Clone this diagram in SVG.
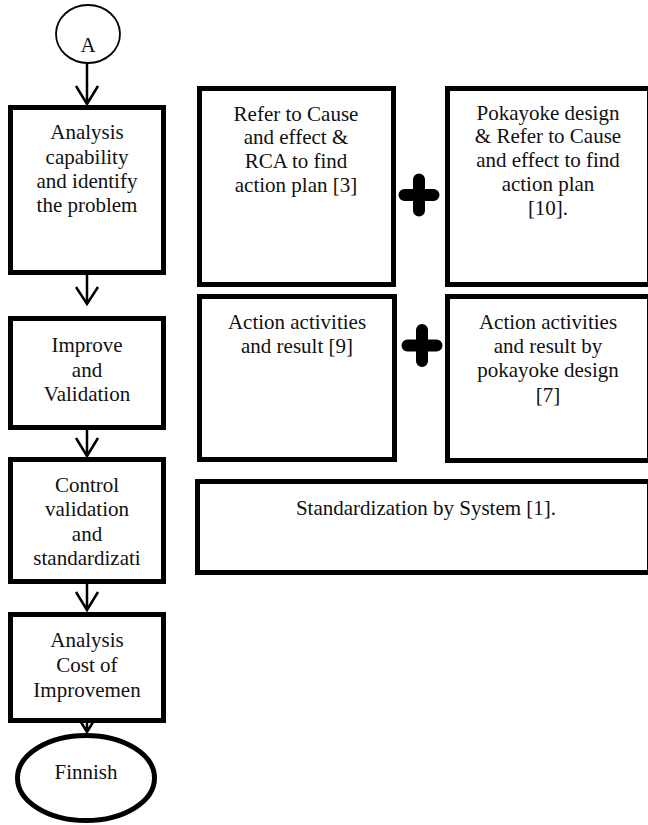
<svg xmlns="http://www.w3.org/2000/svg" width="648" height="825" viewBox="0 0 648 825">
<style>
.box{fill:#fff;stroke:#000;stroke-width:5}
text{font-family:'Liberation Serif',serif;font-size:21px;fill:#111;text-anchor:middle}
.ln{fill:none;stroke:#000;stroke-width:2.5}
.plus{fill:none;stroke:#000;stroke-width:12;stroke-linecap:round}
</style>
<rect width="648" height="825" fill="#fff"/>
<g id="connectors">
<path class="ln" d="M87 63V104M76 86L87 104L98 86"/>
<path class="ln" d="M87 275V304M76 287L87 304L98 287"/>
<path class="ln" d="M87 430V456M76 438L87 456L98 438"/>
<path class="ln" d="M87 584V610M76 592L87 610L98 592"/>
<path class="ln" d="M87 705V732M76 714L87 732L98 714"/>
</g>
<g id="startA">
<ellipse cx="88" cy="34" rx="32" ry="29" fill="#fff" stroke="#000" stroke-width="1.8"/>
<text x="88" y="52">A</text>
</g>
<g id="analysis">
<rect class="box" x="10.5" y="107.5" width="153" height="165"/>
<text x="87" y="139">Analysis</text>
<text x="87" y="164">capability</text>
<text x="87" y="188">and identify</text>
<text x="87" y="212">the problem</text>
</g>
<g id="improve">
<rect class="box" x="10.5" y="318.5" width="153" height="109"/>
<text x="87" y="352">Improve</text>
<text x="87" y="377">and</text>
<text x="87" y="401">Validation</text>
</g>
<g id="control">
<rect class="box" x="10.5" y="459.5" width="153" height="122"/>
<text x="87" y="492">Control</text>
<text x="87" y="516">validation</text>
<text x="87" y="541">and</text>
<text x="87" y="565">standardizati</text>
</g>
<g id="cost">
<rect class="box" x="10.5" y="614.5" width="153" height="106"/>
<text x="87" y="647">Analysis</text>
<text x="87" y="672">Cost of</text>
<text x="87" y="697">Improvemen</text>
</g>
<g id="finish">
<ellipse cx="86" cy="778" rx="68.5" ry="42.5" fill="#fff" stroke="#000" stroke-width="5"/>
<text x="86" y="779">Finnish</text>
</g>
<g id="refer">
<rect class="box" x="199.5" y="88.5" width="194" height="196"/>
<text x="296" y="121">Refer to Cause</text>
<text x="296" y="144">and effect &amp;</text>
<text x="296" y="168">RCA to find</text>
<text x="296" y="192">action plan [3]</text>
</g>
<g id="plus1"><path class="plus" d="M404.5 195H433.5M419 179.5V210.5"/></g>
<g id="pokayoke">
<rect class="box" x="447.5" y="88.5" width="202" height="196"/>
<text x="548" y="120">Pokayoke design</text>
<text x="548" y="143">&amp; Refer to Cause</text>
<text x="548" y="167">and effect to find</text>
<text x="548" y="191">action plan</text>
<text x="548" y="215">[10].</text>
</g>
<g id="action9">
<rect class="box" x="199.5" y="296.5" width="195" height="163"/>
<text x="297" y="329">Action activities</text>
<text x="297" y="353">and result [9]</text>
</g>
<g id="plus2"><path class="plus" d="M407.5 345.5H436.5M422 330V361"/></g>
<g id="action7">
<rect class="box" x="447.5" y="296.5" width="202" height="164"/>
<text x="548" y="329">Action activities</text>
<text x="548" y="353">and result by</text>
<text x="548" y="377">pokayoke design</text>
<text x="548" y="402">[7]</text>
</g>
<g id="standard">
<rect class="box" x="197.5" y="481.5" width="452" height="91"/>
<text x="426" y="515">Standardization by System [1].</text>
</g>
</svg>
